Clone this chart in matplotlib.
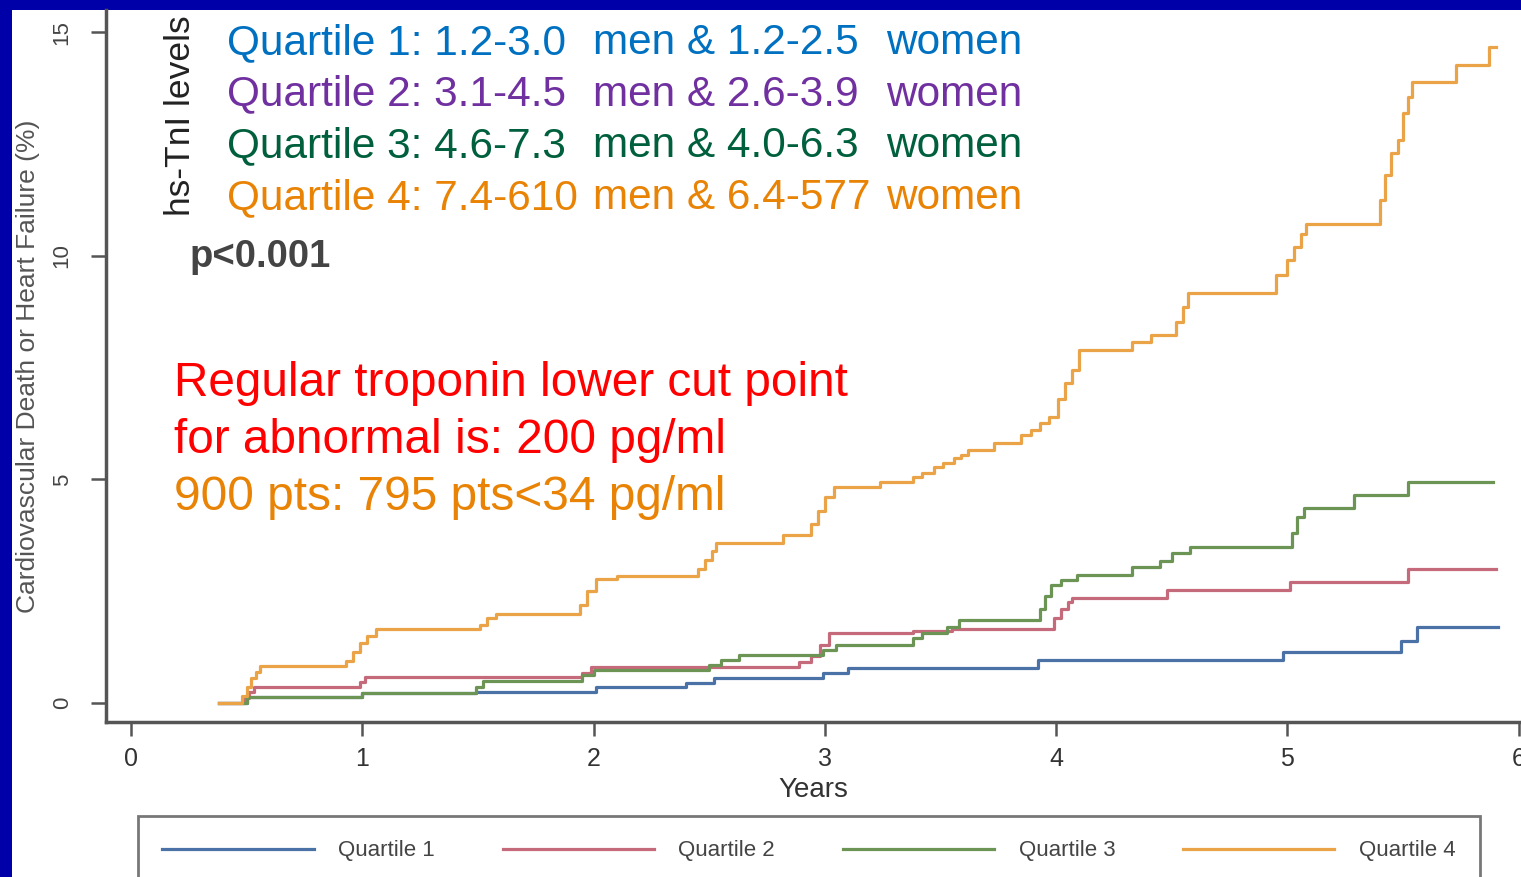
import matplotlib
matplotlib.use('Agg')
import matplotlib.pyplot as plt
from matplotlib.patches import Rectangle

plt.rcParams['font.family'] = ['Liberation Sans', 'DejaVu Sans']

W, H = 1521, 877

# Kaplan-Meier step curves (years, cumulative %)
q1_t = [0.38, 0.50, 1.00, 1.49, 2.01, 2.40, 2.52, 2.99, 3.10, 3.92, 4.98, 5.49, 5.56, 5.91]
q1_v = [0.00, 0.13, 0.22, 0.25, 0.35, 0.45, 0.57, 0.68, 0.79, 0.96, 1.14, 1.39, 1.70, 1.70]

q2_t = [0.38, 0.49, 0.51, 0.53, 0.99, 1.01, 1.95, 1.99, 2.89, 2.94, 2.98, 3.02, 3.38, 3.55,
        3.99, 4.02, 4.05, 4.07, 4.48, 5.01, 5.52, 5.90]
q2_v = [0.00, 0.12, 0.25, 0.36, 0.47, 0.58, 0.68, 0.80, 0.92, 1.05, 1.30, 1.56, 1.60, 1.66,
        1.90, 2.10, 2.25, 2.35, 2.53, 2.71, 3.00, 3.00]

q3_t = [0.38, 0.50, 1.00, 1.49, 1.52, 1.95, 2.00, 2.50, 2.55, 2.63, 2.99, 3.05, 3.38, 3.42,
        3.53, 3.58, 3.93, 3.95, 3.98, 4.02, 4.09, 4.33, 4.45, 4.50, 4.58, 5.02, 5.04, 5.07,
        5.29, 5.52, 5.89]
q3_v = [0.00, 0.13, 0.22, 0.35, 0.50, 0.62, 0.74, 0.85, 0.96, 1.07, 1.18, 1.30, 1.45, 1.56,
        1.70, 1.86, 2.10, 2.40, 2.64, 2.75, 2.86, 3.04, 3.18, 3.35, 3.49, 3.80, 4.16, 4.36,
        4.65, 4.95, 4.95]

q4_t = [0.38, 0.48, 0.50, 0.52, 0.54, 0.56, 0.93, 0.96, 0.99, 1.02, 1.06, 1.51, 1.54, 1.58,
        1.94, 1.97, 2.01, 2.10, 2.45, 2.48, 2.51, 2.53, 2.82, 2.94, 2.97, 3.00, 3.04, 3.24,
        3.38, 3.42, 3.47, 3.51, 3.56, 3.59, 3.62, 3.73, 3.85, 3.89, 3.93, 3.97, 4.01, 4.04,
        4.07, 4.10, 4.33, 4.41, 4.52, 4.55, 4.57, 4.95, 5.00, 5.03, 5.06, 5.08, 5.40, 5.42,
        5.45, 5.48, 5.50, 5.52, 5.54, 5.73, 5.87, 5.90]
q4_v = [0.00, 0.15, 0.35, 0.55, 0.70, 0.83, 0.95, 1.15, 1.35, 1.50, 1.65, 1.75, 1.90, 2.00,
        2.20, 2.50, 2.77, 2.84, 3.00, 3.20, 3.40, 3.58, 3.76, 4.00, 4.30, 4.60, 4.83, 4.94,
        5.05, 5.15, 5.27, 5.37, 5.48, 5.55, 5.66, 5.82, 6.00, 6.10, 6.26, 6.40, 6.80, 7.16,
        7.45, 7.90, 8.08, 8.23, 8.52, 8.86, 9.17, 9.57, 9.90, 10.20, 10.50, 10.72, 11.25, 11.80,
        12.30, 12.60, 13.20, 13.56, 13.90, 14.27, 14.68, 14.68]

labels = ['Quartile 1', 'Quartile 2', 'Quartile 3', 'Quartile 4']
line_colors = ['#4a72a6', '#c46a7a', '#6b9455', '#eaa347']

# hs-TnI ranges per quartile: (label, men range, women range)
range_names = ['Quartile 1: 1.2-3.0', 'Quartile 2: 3.1-4.5', 'Quartile 3: 4.6-7.3', 'Quartile 4: 7.4-610']
range_men = ['men & 1.2-2.5', 'men & 2.6-3.9', 'men & 4.0-6.3', 'men & 6.4-577']
text_colors = ['#0070c0', '#7030a0', '#005f3c', '#e98305']


def fx(px):
    return px / W


def fy(py):
    return 1 - py / H


fig = plt.figure(figsize=(W / 100, H / 100), dpi=100, facecolor='#0000a8')
fig.patches.append(Rectangle((fx(12), 0), 1 - fx(12), fy(10), transform=fig.transFigure,
                             facecolor='white', edgecolor='none', zorder=-5))

ax = fig.add_axes([fx(106), fy(722), fx(W - 106), (722 - 10) / H])
ax.set_facecolor('white')

for t, v, c, lab in zip([q1_t, q2_t, q3_t, q4_t], [q1_v, q2_v, q3_v, q4_v], line_colors, labels):
    ax.step(t, v, where='post', color=c, lw=2.3, label=lab)

ax.set_xlim(-0.108, 6.01)
ax.set_ylim(-0.425, 15.5)
ax.set_xticks(range(0, 7))
ax.set_yticks([0, 5, 10, 15])
for s in ['top', 'right']:
    ax.spines[s].set_visible(False)
for s in ['left', 'bottom']:
    ax.spines[s].set_color('#555555')
    ax.spines[s].set_linewidth(2.5)
ax.tick_params(axis='x', length=10, width=1.8, color='#555555', labelcolor='#333333',
               labelsize=18, pad=8)
ax.tick_params(axis='y', length=11, width=1.8, color='#555555', labelcolor='#444444',
               labelsize=16, pad=13, labelrotation=90)
for lbl in ax.get_yticklabels():
    lbl.set_va('center')
ax.set_xlabel('Years', fontsize=20, color='#333333', labelpad=4)
ax.set_ylabel('Cardiovascular Death or Heart Failure (%)', fontsize=19, color='#555555')
ax.yaxis.set_label_coords(-(106 - 40) / (W - 106), (722 - 366) / (722 - 10))

# quartile ranges
for i in range(4):
    y = fy(43 + i * 51.7)
    fig.text(fx(227), y, range_names[i], color=text_colors[i], fontsize=30.5, va='center')
    fig.text(fx(593), y, range_men[i], color=text_colors[i], fontsize=30.5, va='center')
    fig.text(fx(886), y, 'women', color=text_colors[i], fontsize=30.5, va='center')

fig.text(fx(180), fy(116), 'hs-TnI levels', rotation=90, fontsize=25.5, color='#222222',
         ha='center', va='center')
fig.text(fx(190), fy(257), 'p<0.001', fontsize=27.5, fontweight='bold', color='#444444',
         va='center')

fig.text(fx(174), fy(383), 'Regular troponin lower cut point', fontsize=34.4, color='#ff0000',
         va='center')
fig.text(fx(174), fy(440), 'for abnormal is: 200 pg/ml', fontsize=34.4, color='#ff0000',
         va='center')
fig.text(fx(174), fy(497), '900 pts: 795 pts<34 pg/ml', fontsize=34.4, color='#e98305',
         va='center')

leg = fig.legend(loc='upper left', bbox_to_anchor=(fx(138), 0, fx(1480 - 138), fy(816)),
                 mode='expand', ncol=4, fontsize=16, handlelength=6.8, handletextpad=1.1,
                 borderpad=1.1, frameon=True, fancybox=False, borderaxespad=0)
leg.get_frame().set_edgecolor('#555555')
leg.get_frame().set_linewidth(2)
for txt in leg.get_texts():
    txt.set_color('#444444')

fig.savefig('out.png', dpi=100, facecolor=fig.get_facecolor())
